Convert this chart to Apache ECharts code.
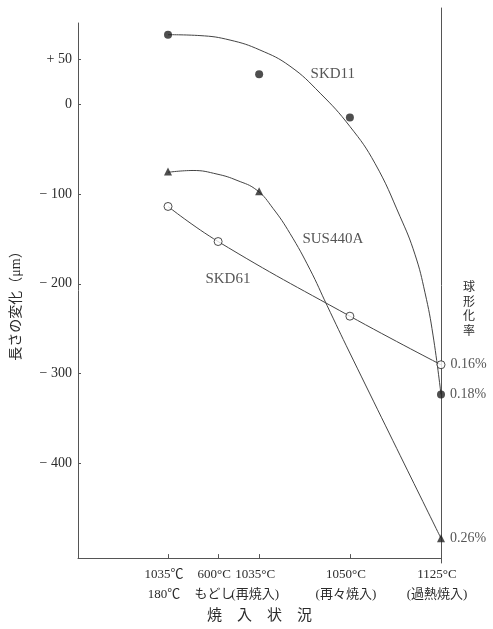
<!DOCTYPE html>
<html>
<head>
<meta charset="utf-8">
<title>焼入状況と長さの変化</title>
<script src="https://cdn.jsdelivr.net/npm/echarts@6/dist/echarts.min.js"></script>
<style>
	html, body { margin: 0; padding: 0; background: #fff; }
	#main { width: 493px; height: 629px; }
</style>
</head>
<body>
<div id="main"></div>
<script>
//横軸（焼入状況）：原図どおり不等間隔
var stepPos = [24.8, 38.6, 49.9, 74.9, 100];
var stepNames = ['1035℃\n180℃', '600°C\nもどし', '1035°C\n(再焼入)', '1050°C\n(再々焼入)', '1125°C\n(過熱焼入)'];
var yTicks = [50, 0, -100, -200, -300, -400];

//測定点（μm）
var skd11 = [77, null, 33, -15, -323];
var sus440a = [-75, null, -97, null, -483];
var skd61 = [-114, -153, null, -236, -290];
//球形化率（過熱焼入）
var rate = { skd11: '0.18%', sus440a: '0.26%', skd61: '0.16%' };

//曲線（図から読んだ点）
var skd11CurveX = [24.8, 33.6, 41.9, 50.1, 58.4, 66.7, 74.9, 81.8, 88.7, 92.8, 95.6, 97.8, 100];
var skd11CurveY = [77, 76, 71, 60, 42, 12, -25, -66, -125, -167, -210, -257, -323];
var sus440aCurveX = [24.8, 31.7, 38.3, 43.8, 49.3, 53.7, 58.4, 63.9, 68.6, 74.9, 100];
var sus440aCurveY = [-76, -74, -78, -85, -96, -116, -144, -184, -224, -277, -483];
var skd61CurveX = [24.8, 38.6, 74.9, 100];
var skd61CurveY = [-114, -153, -236, -290];

var serif = 'Liberation Serif, Noto Sans CJK JP';
var ink = '#2b2b2b';

function zip(xs, ys) {
	var out = [];
	for(var i = 0; i < xs.length; i++) {
		out.push([xs[i], ys[i]]);
	}
	return out;
}

//測定点 + 最後の点に球形化率
function points(vals, lastLabel) {
	var out = [];
	for(var i = 0; i < vals.length; i++) {
		if(vals[i] === null) continue;
		var item = { value: [stepPos[i], vals[i]] };
		if(i == vals.length - 1) {
			item.label = {
				show: true,
				position: 'right',
				distance: 5,
				formatter: lastLabel,
				fontFamily: serif,
				fontSize: 14,
				color: ink
			};
		}
		out.push(item);
	}
	return out;
}

function curve(name, xs, ys) {
	return {
		name: name,
		type: 'line',
		data: zip(xs, ys),
		smooth: 0.45,
		symbol: 'none',
		lineStyle: { color: '#444', width: 1 },
		silent: true,
		z: 2
	};
}

var myChart = echarts.init(document.getElementById('main'));
option = {
	backgroundColor: '#fff',
	animation: false,
	title: {
		text: '球\n形\n化\n率',
		left: 458,
		top: 276,
		textStyle: { fontFamily: serif, fontSize: 12, lineHeight: 14.5, fontWeight: 'normal', color: ink }
	},
	grid: [
		{ left: 78, right: 52, top: 23, bottom: 66 },
		{ left: 78, right: 52, top: 8, bottom: 66 }
	],
	xAxis: [{
		type: 'value',
		gridIndex: 0,
		min: 0,
		max: 100,
		splitLine: { show: false },
		axisLine: { onZero: false, lineStyle: { color: '#555', width: 1 } },
		axisTick: { customValues: stepPos.slice(0, 4), inside: true, length: 4, lineStyle: { color: '#555' } },
		axisLabel: {
			customValues: stepPos,
			formatter: function(v) {
				var i = stepPos.indexOf(v);
				return i >= 0 ? stepNames[i] : '';
			},
			margin: 6,
			fontFamily: serif,
			fontSize: 13,
			lineHeight: 20,
			color: ink,
			padding: [0, 8, 0, 0]
		},
		name: '焼　入　状　況',
		nameLocation: 'middle',
		nameGap: 48,
		nameTextStyle: { fontFamily: serif, fontSize: 15, color: ink }
	}, {
		type: 'value',
		gridIndex: 1,
		min: 0,
		max: 100,
		show: false
	}],
	yAxis: [{
		type: 'value',
		gridIndex: 0,
		position: 'left',
		min: -505,
		max: 90,
		splitLine: { show: false },
		axisLine: { show: true, onZero: false, lineStyle: { color: '#555', width: 1 } },
		axisTick: { show: true, customValues: yTicks, inside: true, length: 3, lineStyle: { color: '#555' } },
		axisLabel: {
			customValues: yTicks,
			formatter: function(v) {
				if(v > 0) return '+ ' + v;
				if(v < 0) return '\u2212 ' + (-v);
				return '0';
			},
			margin: 6,
			fontFamily: serif,
			fontSize: 14,
			color: ink
		},
		name: '長さの変化（μm）',
		nameLocation: 'middle',
		nameRotate: 90,
		nameGap: 55,
		nameTextStyle: { fontFamily: serif, fontSize: 14, color: ink, padding: [0, 24, 0, 0] }
	}, {
		type: 'value',
		gridIndex: 1,
		position: 'right',
		min: 0,
		max: 1,
		splitLine: { show: false },
		axisLine: { show: true, onZero: false, lineStyle: { color: '#555', width: 1 } },
		axisTick: { show: false },
		axisLabel: { show: false }
	}],
	series: [
		curve('SKD11', skd11CurveX, skd11CurveY),
		curve('SUS440A', sus440aCurveX, sus440aCurveY),
		curve('SKD61', skd61CurveX, skd61CurveY),
		{
			name: 'SKD11点',
			type: 'scatter',
			data: points(skd11, rate.skd11),
			symbol: 'circle',
			symbolSize: 8,
			itemStyle: { color: '#222' },
			z: 3
		},
		{
			name: 'SUS440A点',
			type: 'scatter',
			data: points(sus440a, rate.sus440a),
			symbol: 'triangle',
			symbolSize: 8,
			itemStyle: { color: '#222' },
			z: 3
		},
		{
			name: 'SKD61点',
			type: 'scatter',
			data: points(skd61, rate.skd61),
			symbol: 'circle',
			symbolSize: 8,
			itemStyle: { color: '#fff', borderColor: '#222', borderWidth: 1 },
			z: 3
		},
		{
			//系列名の書き込み
			name: 'tags',
			type: 'scatter',
			symbolSize: 1,
			itemStyle: { color: 'rgba(0,0,0,0)' },
			label: {
				show: true,
				position: 'inside',
				formatter: '{b}',
				fontFamily: serif,
				fontSize: 15,
				color: ink
			},
			silent: true,
			data: [
				{ name: 'SKD11', value: [70.2, 33] },
				{ name: 'SUS440A', value: [70.2, -150] },
				{ name: 'SKD61', value: [41.3, -195] }
			]
		}
	]
};

myChart.setOption(option);
</script>
</body>
</html>
